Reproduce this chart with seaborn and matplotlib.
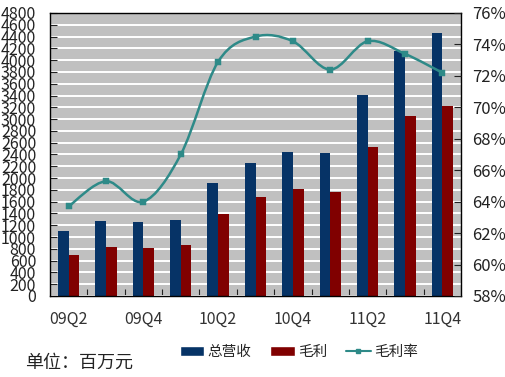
"""Quarterly revenue, gross profit and gross margin"""
import numpy as np
import pandas as pd
import seaborn as sns
import matplotlib
matplotlib.use("Agg")
import matplotlib.pyplot as plt
from matplotlib.path import Path
from matplotlib.patches import PathPatch, Patch
from matplotlib.lines import Line2D

quarters = ["09Q2", "09Q3", "09Q4", "10Q1", "10Q2", "10Q3",
            "10Q4", "11Q1", "11Q2", "11Q3", "11Q4"]
revenue = [1100, 1270, 1255, 1290, 1915, 2255, 2440, 2425, 3410, 4155, 4460]
gross_profit = [695, 830, 815, 865, 1390, 1680, 1815, 1765, 2530, 3055, 3220]
margin = [63.7, 65.3, 64.0, 67.0, 72.9, 74.5, 74.2, 72.4, 74.2, 73.4, 72.2]
tick_labels = ["09Q2", "09Q4", "10Q2", "10Q4", "11Q2", "11Q4"]

BLUE = "#063366"
RED = "#800000"
TEAL = "#2E8A88"
GRAY = "#C0C0C0"

sns.set_style("white")
plt.rcParams["font.family"] = ["Noto Sans CJK SC", "DejaVu Sans"]

df = pd.DataFrame({
    "quarter": quarters * 2,
    "value": revenue + gross_profit,
    "series": ["总营收"] * len(quarters) + ["毛利"] * len(quarters),
})

fig = plt.figure(figsize=(5.06, 3.77), dpi=100)
ax = fig.add_axes([0.0988, 0.2149, 0.8123, 0.7507])
ax.set_facecolor(GRAY)

sns.barplot(data=df, x="quarter", y="value", hue="series", order=quarters,
            palette=[BLUE, RED], width=0.57, ax=ax, legend=False,
            saturation=1, linewidth=0)

ax.set_ylim(0, 4800)
ax.set_xlim(-0.5, 10.5)
ax.set_yticks(np.arange(0, 4801, 200))
ax.yaxis.grid(True, color="white", lw=1.4)
ax.set_axisbelow(True)
ax.tick_params(axis="y", direction="in", length=5, width=0.8, pad=10,
               labelsize=11.5, colors="#222222")
ax.set_xticks([quarters.index(q) for q in tick_labels])
ax.set_xticklabels(tick_labels)
ax.set_xticks(np.arange(0.5, 10, 1), minor=True)
ax.tick_params(axis="x", which="major", length=0, pad=11, labelsize=11.5,
               colors="#333333")
ax.tick_params(axis="x", which="minor", direction="in", length=5,
               width=0.8, bottom=True, color="#222222")
ax.set_xlabel("")
ax.set_ylabel("")
for sp in ax.spines.values():
    sp.set_color("black")
    sp.set_linewidth(1.0)

# gross margin on the right axis, drawn as a smoothed curve
ax2 = ax.twinx()
ax2.set_ylim(58, 76)
ax2.set_yticks(np.arange(58, 77, 2))
ax2.set_yticklabels(["%d%%" % v for v in range(58, 77, 2)])
ax2.tick_params(axis="y", direction="in", length=5, width=0.8, pad=8,
                labelsize=12, colors="#222222")
for sp in ax2.spines.values():
    sp.set_visible(False)

xs = np.arange(len(margin), dtype=float)
ys = np.array(margin, dtype=float)
px = np.concatenate([[xs[0]], xs, [xs[-1]]])
py = np.concatenate([[ys[0]], ys, [ys[-1]]])
verts = [(xs[0], ys[0])]
codes = [Path.MOVETO]
for i in range(1, len(px) - 2):
    c1 = (px[i] + (px[i + 1] - px[i - 1]) / 6, py[i] + (py[i + 1] - py[i - 1]) / 6)
    c2 = (px[i + 1] - (px[i + 2] - px[i]) / 6, py[i + 1] - (py[i + 2] - py[i]) / 6)
    verts += [c1, c2, (px[i + 1], py[i + 1])]
    codes += [Path.CURVE4] * 3
ax2.add_patch(PathPatch(Path(verts, codes), facecolor="none",
                        edgecolor=TEAL, lw=1.8, zorder=3))
sns.scatterplot(x=xs, y=ys, marker="s", s=16, color=TEAL, edgecolor=TEAL,
                ax=ax2, zorder=4, legend=False)
ax2.set_xlim(-0.5, 10.5)

handles = [
    Patch(facecolor=BLUE, label="总营收"),
    Patch(facecolor=RED, label="毛利"),
    Line2D([], [], color=TEAL, lw=1.5, marker="s", markersize=3,
           label="毛利率"),
]
fig.legend(handles=handles, loc="center", bbox_to_anchor=(0.59, 0.066),
           ncol=3, frameon=False, fontsize=10.5, handlelength=1.7,
           handleheight=0.6, handletextpad=0.2, columnspacing=1.3)
fig.text(0.05, 0.025, "单位：百万元", fontsize=13, color="#222222")

fig.savefig("out.png", dpi=100, facecolor="white")
